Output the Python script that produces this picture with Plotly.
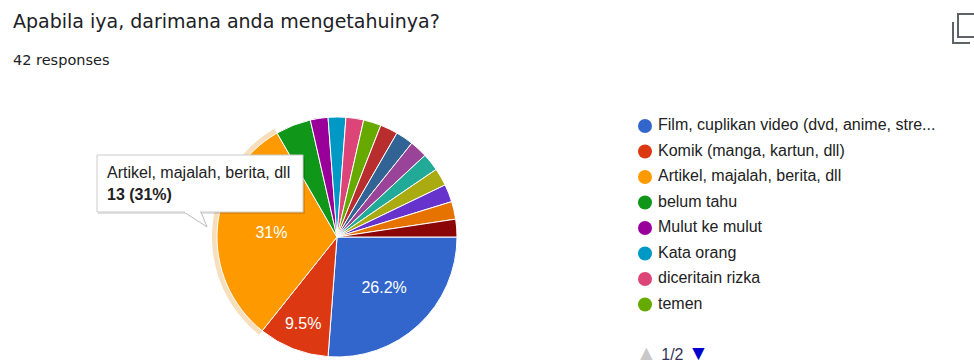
import plotly.graph_objects as go

W, H = 974, 363

labels = [
    "Film, cuplikan video (dvd, anime, stre...",
    "Komik (manga, kartun, dll)",
    "Artikel, majalah, berita, dll",
    "belum tahu",
    "Mulut ke mulut",
    "Kata orang",
    "diceritain rizka",
    "temen",
    "lainnya 1", "lainnya 2", "lainnya 3", "lainnya 4",
    "lainnya 5", "lainnya 6", "lainnya 7", "lainnya 8",
]
counts = [11, 4, 13, 2, 1, 1, 1, 1, 1, 1, 1, 1, 1, 1, 1, 1]
colors = ["#3366cc", "#dc3912", "#ff9900", "#109618", "#990099", "#0099c6",
          "#dd4477", "#66aa00", "#b82e2e", "#316395", "#994499", "#22aa99",
          "#aaaa11", "#6633cc", "#e67300", "#8b0707"]
legend_page = 8
highlight = 2  # Artikel slice shown with hover tooltip

total = sum(counts)

def fmt_pct(v):
    p = round(v / total * 100, 1)
    s = f"{p:.1f}"
    if s.endswith(".0"):
        s = s[:-2]
    return s + "%"

slice_text = [fmt_pct(v) if v / total >= 0.05 else "" for v in counts]

# pie geometry (pixels)
cx, cy, R, Rh = 337, 237, 120, 125

def dom(r):
    return dict(x=[(cx - r) / W, (cx + r) / W], y=[(H - cy - r) / H, (H - cy + r) / H])

ARIAL = "Liberation Sans, Arial"

fig = go.Figure()

# hover halo behind highlighted slice
fig.add_trace(go.Pie(
    labels=labels, values=counts, sort=False, direction="clockwise", rotation=90,
    marker=dict(colors=["#f7dfbd" if i == highlight else "rgba(0,0,0,0)" for i in range(len(counts))],
                line=dict(width=0)),
    textinfo="none", hoverinfo="skip", showlegend=False, domain=dom(Rh),
))

fig.add_trace(go.Pie(
    labels=labels, values=counts, sort=False, direction="clockwise", rotation=90,
    marker=dict(colors=colors, line=dict(color="white", width=1)),
    text=slice_text, textinfo="text", textposition="inside",
    insidetextorientation="horizontal",
    textfont=dict(family=ARIAL, size=16, color="white"),
    hoverinfo="label+value+percent", showlegend=False, domain=dom(R),
))

# legend (page 1 of 2)
idx = list(range(legend_page))
fig.add_trace(go.Scatter(
    x=[0] * legend_page, y=idx, mode="markers",
    marker=dict(size=14, color=colors[:legend_page], line=dict(width=0)),
    hoverinfo="skip", showlegend=False, xaxis="x2", yaxis="y2", cliponaxis=False,
))
fig.add_trace(go.Scatter(
    x=[13] * legend_page, y=idx, mode="text",
    text=labels[:legend_page], textposition="middle right",
    textfont=dict(family=ARIAL, size=16, color="#222222"),
    hoverinfo="skip", showlegend=False, xaxis="x2", yaxis="y2", cliponaxis=False,
))

shapes = []
# tooltip shadow + box
shapes.append(dict(type="rect", xref="x", yref="y", x0=98, y0=157, x1=305, y1=214,
                   fillcolor="rgba(0,0,0,0.12)", line=dict(width=0), layer="above"))
shapes.append(dict(type="path", xref="x", yref="y",
                   path="M 184 212 L 207 227 L 201 212 Z",
                   fillcolor="white", line=dict(color="#bbbbbb", width=1), layer="above"))
shapes.append(dict(type="rect", xref="x", yref="y", x0=97, y0=155, x1=303, y1=212,
                   fillcolor="white", line=dict(color="#cccccc", width=1), layer="above"))
shapes.append(dict(type="line", xref="x", yref="y", x0=185, y0=212, x1=200, y1=212,
                   line=dict(color="white", width=2), layer="above"))
# copy icon
shapes.append(dict(type="rect", xref="x", yref="y", x0=958, y0=14, x1=980, y1=37,
                   fillcolor="rgba(0,0,0,0)", line=dict(color="#5f6368", width=2)))
shapes.append(dict(type="path", xref="x", yref="y", path="M 953 22 L 953 43 L 970 43",
                   line=dict(color="#5f6368", width=2)))

annotations = [
    dict(x=11, y=21, xref="x", yref="y", text="Apabila iya, darimana anda mengetahuinya?",
         showarrow=False, xanchor="left", yanchor="middle",
         font=dict(family="DejaVu Sans", size=19, color="#202124")),
    dict(x=11, y=60, xref="x", yref="y", text=f"{total} responses",
         showarrow=False, xanchor="left", yanchor="middle",
         font=dict(family="DejaVu Sans", size=14.5, color="#202124")),
    dict(x=105, y=172, xref="x", yref="y", text=labels[highlight],
         showarrow=False, xanchor="left", yanchor="middle",
         font=dict(family=ARIAL, size=16, color="#222222")),
    dict(x=105, y=194, xref="x", yref="y",
         text=f"<b>{counts[highlight]} ({fmt_pct(counts[highlight])})</b>",
         showarrow=False, xanchor="left", yanchor="middle",
         font=dict(family=ARIAL, size=16, color="#222222")),
    dict(x=634, y=352, xref="x", yref="y",
         text="<span style='color:#c8c8c8;font-size:21px'>▲</span> 1/2 "
              "<span style='color:#0000cc;font-size:21px'>▼</span>",
         showarrow=False, xanchor="left", yanchor="middle",
         font=dict(family=ARIAL, size=16, color="#333355")),
]

sp = 25.5
top0 = 126
fig.update_layout(
    width=W, height=H, margin=dict(l=0, r=0, t=0, b=0),
    paper_bgcolor="white", plot_bgcolor="rgba(0,0,0,0)",
    xaxis=dict(range=[0, W], domain=[0, 1], visible=False, fixedrange=True),
    yaxis=dict(range=[H, 0], domain=[0, 1], visible=False, fixedrange=True),
    xaxis2=dict(range=[-645, W - 645], domain=[0, 1], visible=False, overlaying="x", anchor="y2"),
    yaxis2=dict(range=[(H - top0) / sp, -top0 / sp], domain=[0, 1], visible=False,
                overlaying="y", anchor="x2"),
    shapes=shapes, annotations=annotations, showlegend=False,
)

fig.write_html("out.html")
